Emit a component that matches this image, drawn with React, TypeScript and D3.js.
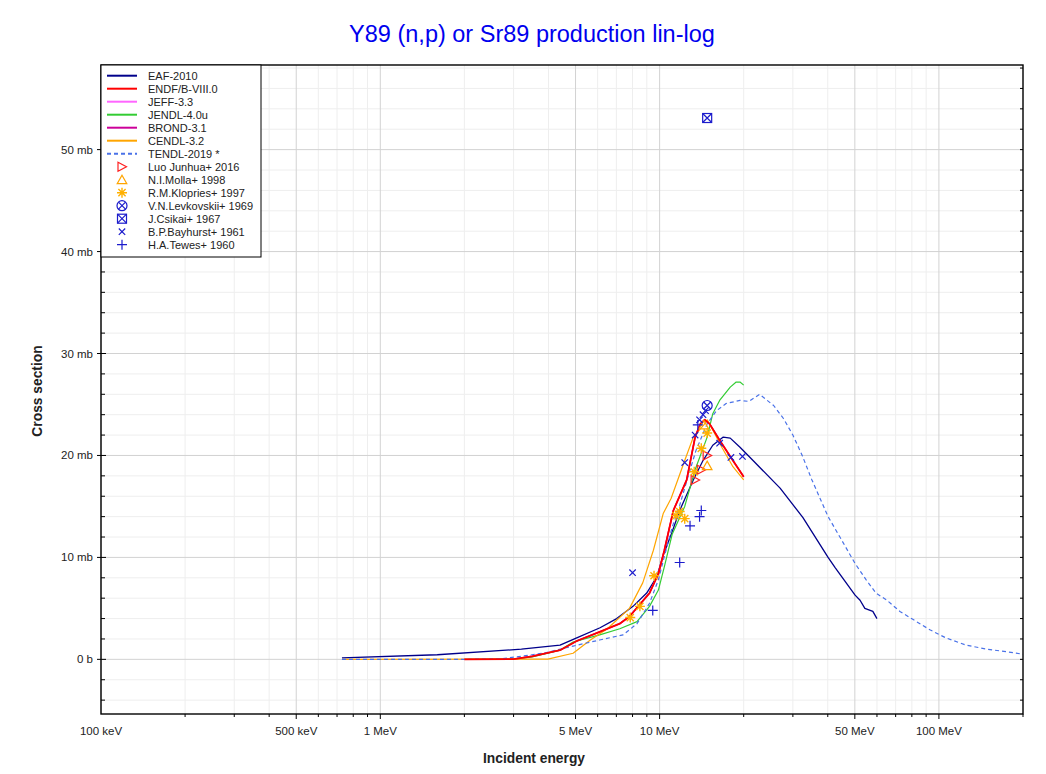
import * as d3 from 'd3';

// Evaluated curves: [incident energy in MeV, cross section in mb]
const eaf2010: [number, number][] = [
  [0.729, 0.15], [1.6, 0.45], [3.2, 1.0], [4.4, 1.4], [5.05, 2.1], [6.12, 3.1],
  [7.02, 4.0], [8.03, 5.2], [8.99, 6.5], [9.77, 8.1], [10.3, 10.2], [11.05, 12.4],
  [11.8, 14.6], [13.2, 17.6], [14.3, 19.5], [15.5, 21.0], [16.9, 21.8], [17.9, 21.7],
  [19.4, 20.8], [21.6, 19.5], [27.0, 16.8], [32.6, 13.9], [40.1, 10.0], [42.5, 9.0],
  [50.1, 6.3], [52.2, 5.8], [54.3, 5.0], [58.0, 4.7], [60.0, 4.0],
];

const endfb80: [number, number][] = [
  [2.0, 0], [3.0, 0.02], [3.5, 0.3], [4.4, 0.9], [5.05, 1.8], [6.1, 2.7], [7.2, 3.5],
  [7.8, 4.2], [9.2, 6.5], [9.9, 8.4], [10.4, 10.7], [11.2, 14.6], [12.5, 17.6],
  [13.4, 21.8], [14.0, 23.1], [14.5, 23.5], [15.1, 23.1], [16.4, 21.5], [17.9, 19.9],
  [20.0, 17.9],
];

const jeff33 = endfb80;
const brond31 = endfb80;

const jendl40u: [number, number][] = [
  [2.0, 0], [3.0, 0.02], [3.5, 0.25], [4.4, 0.9], [4.9, 1.7], [6.1, 2.4], [7.2, 3.0],
  [8.3, 3.7], [9.2, 5.2], [9.9, 6.8], [10.4, 9.1], [11.1, 12.3], [12.3, 15.0],
  [13.4, 18.6], [14.8, 21.8], [15.5, 24.1], [16.4, 25.4], [17.9, 26.7], [18.8, 27.2],
  [19.4, 27.2], [20.0, 26.9],
];

const cendl32: [number, number][] = [
  [0.729, 0], [3.98, 0.03], [4.9, 0.6], [5.65, 1.9], [6.5, 3.0], [7.8, 5.0], [8.7, 7.5],
  [9.5, 10.7], [10.3, 14.3], [11.0, 15.8], [12.3, 19.5], [13.2, 21.8], [14.4, 23.0],
  [14.8, 23.5], [15.5, 22.5], [16.7, 20.8], [18.3, 18.9], [20.0, 17.6],
];

const tendl2019: [number, number][] = [
  [0.729, 0], [2.0, 0], [2.7, 0.05], [3.4, 0.4], [3.9, 0.65], [4.9, 1.3], [6.1, 1.9],
  [7.4, 2.4], [8.3, 3.5], [9.2, 5.5], [9.9, 7.8], [10.4, 10.1], [11.1, 13.0],
  [11.8, 15.1], [12.6, 17.8], [13.5, 20.5], [14.8, 23.1], [16.0, 24.4], [17.3, 25.1],
  [19.4, 25.4], [20.9, 25.3], [22.8, 26.0], [25.6, 24.9], [27.8, 23.6], [30.0, 22.0],
  [32.4, 20.0], [35.1, 17.6], [40.1, 14.0], [44.2, 12.0], [50.1, 9.4], [54.9, 7.8],
  [59.5, 6.5], [65.1, 5.8], [72.5, 4.7], [80.9, 3.9], [92.8, 2.9], [106, 2.1],
  [125, 1.4], [148, 1.0], [175, 0.75], [200, 0.5],
];

// Measurements: [energy MeV, cross section mb]
const luoJunhua2016: [number, number][] = [[13.4, 17.6], [14.1, 18.6], [14.8, 20.0]];
const molla1998: [number, number][] = [[14.4, 23.0], [14.8, 19.0]];
const klopries1997: [number, number][] = [
  [7.85, 4.1], [8.5, 5.2], [9.55, 8.2], [11.45, 14.1], [11.8, 14.5], [12.3, 13.8],
  [13.3, 18.4], [14.1, 20.7], [14.8, 22.2],
];
const levkovskii1969: [number, number][] = [[14.8, 24.9]];
const csikai1967: [number, number][] = [[14.8, 53.1]];
const bayhurst1961: [number, number][] = [
  [8.0, 8.5], [12.3, 19.3], [13.4, 22.0], [13.9, 23.5], [14.3, 24.0], [14.6, 24.4],
  [16.4, 21.2], [18.0, 19.8], [19.8, 19.9],
];
const tewes1960: [number, number][] = [
  [9.45, 4.8], [11.8, 9.5], [12.85, 13.1], [13.9, 14.0], [14.1, 14.6], [13.7, 23.0],
];

const xTickValues = [0.1, 0.5, 1, 5, 10, 50, 100];
const xTickLabels = ['100 keV', '500 keV', '1 MeV', '5 MeV', '10 MeV', '50 MeV', '100 MeV'];
const yTickValues = [0, 10, 20, 30, 40, 50];
const yTickLabels = ['0 b', '10 mb', '20 mb', '30 mb', '40 mb', '50 mb'];

const FONT = 'Liberation Sans, Arial, Helvetica, sans-serif';
const BLUE = '#1c1ccc';

type Curve = { name: string; data: [number, number][]; color: string; width: number; dash?: string };
type Marks = { name: string; data: [number, number][]; color: string; symbol: string };

const curves: Curve[] = [
  { name: 'EAF-2010', data: eaf2010, color: '#00008b', width: 1.3 },
  { name: 'ENDF/B-VIII.0', data: endfb80, color: '#ff0000', width: 1.8 },
  { name: 'JEFF-3.3', data: jeff33, color: '#ff66ff', width: 1.4 },
  { name: 'JENDL-4.0u', data: jendl40u, color: '#33cc33', width: 1.2 },
  { name: 'BROND-3.1', data: brond31, color: '#cc0099', width: 1.4 },
  { name: 'CENDL-3.2', data: cendl32, color: '#ffa500', width: 1.2 },
  { name: 'TENDL-2019 *', data: tendl2019, color: '#4a72e8', width: 1.2, dash: '4,3' },
];

const marks: Marks[] = [
  { name: 'Luo Junhua+ 2016', data: luoJunhua2016, color: '#ff2020', symbol: 'triRight' },
  { name: 'N.I.Molla+ 1998', data: molla1998, color: '#ffa500', symbol: 'triUp' },
  { name: 'R.M.Klopries+ 1997', data: klopries1997, color: '#ffb000', symbol: 'star' },
  { name: 'V.N.Levkovskii+ 1969', data: levkovskii1969, color: BLUE, symbol: 'circleX' },
  { name: 'J.Csikai+ 1967', data: csikai1967, color: BLUE, symbol: 'squareX' },
  { name: 'B.P.Bayhurst+ 1961', data: bayhurst1961, color: BLUE, symbol: 'cross' },
  { name: 'H.A.Tewes+ 1960', data: tewes1960, color: BLUE, symbol: 'plus' },
];

function Symbol({ kind, x, y, color }: { kind: string; x: number; y: number; color: string }) {
  const common = { fill: 'none', stroke: color, strokeWidth: 1.2 };
  const t = `translate(${x},${y})`;
  switch (kind) {
    case 'triRight':
      return <path transform={t} d="M-4,-4.5L4.5,0L-4,4.5Z" {...common} />;
    case 'triUp':
      return <path transform={t} d="M0,-4.5L4.8,4L-4.8,4Z" {...common} />;
    case 'star':
      return (
        <path
          transform={t}
          d="M0,-5V5M-5,0H5M-3.6,-3.6L3.6,3.6M-3.6,3.6L3.6,-3.6"
          {...common}
          strokeWidth={1.4}
        />
      );
    case 'circleX':
      return (
        <g transform={t} {...common}>
          <circle r={5} />
          <path d="M-3.5,-3.5L3.5,3.5M-3.5,3.5L3.5,-3.5" />
        </g>
      );
    case 'squareX':
      return (
        <g transform={t} {...common}>
          <rect x={-4.5} y={-4.5} width={9} height={9} />
          <path d="M-4.5,-4.5L4.5,4.5M-4.5,4.5L4.5,-4.5" />
        </g>
      );
    case 'cross':
      return <path transform={t} d="M-3.2,-3.2L3.2,3.2M-3.2,3.2L3.2,-3.2" {...common} />;
    default:
      return <path transform={t} d="M0,-5V5M-5,0H5" {...common} />;
  }
}

export default function App() {
  const left = 101;
  const right = 1023;
  const top = 65;
  const bottom = 714;

  const x = d3.scaleLog().domain([0.1, 200]).range([left, right]);
  const y = d3.scaleLinear().domain([-5.36, 58.3]).range([bottom, top]);

  const line = d3
    .line<[number, number]>()
    .x((d) => x(d[0]))
    .y((d) => y(d[1]));

  // log grid: 2..9 in every decade
  const logTicks: number[] = [];
  [0.1, 1, 10, 100].forEach((dec) => {
    for (let m = 1; m <= 9; m++) {
      const v = dec * m;
      if (v <= 200 && v > 0.1) logTicks.push(+v.toPrecision(3));
    }
  });
  const majorX = (v: number) => xTickValues.some((t) => Math.abs(t - v) < 1e-9);
  const yMinor = d3.range(-4, 58.3, 2).filter((v) => v % 10 !== 0);

  // draw order: keep the red ENDF curve on top
  const drawOrder = [curves[0], curves[2], curves[4], curves[3], curves[5], curves[6], curves[1]];

  const legendRows = [...curves.map((c) => c.name), ...marks.map((m) => m.name)];

  return (
    <svg
      width={1046}
      height={774}
      style={{ position: 'absolute', left: 0, top: 0, background: '#fff' }}
      fontFamily={FONT}
    >
      <text x={532} y={42} textAnchor="middle" fontSize={23.5} fill="#0000ee">
        Y89 (n,p) or Sr89 production lin-log
      </text>

      {/* grid */}
      <g>
        {yMinor.map((v) => (
          <line key={'ym' + v} x1={left} x2={right} y1={y(v)} y2={y(v)} stroke="#eeeeee" />
        ))}
        {logTicks.filter((v) => !majorX(v)).map((v) => (
          <line key={'xm' + v} x1={x(v)} x2={x(v)} y1={top} y2={bottom} stroke="#eeeeee" />
        ))}
        {yTickValues.map((v) => (
          <line key={'yM' + v} x1={left} x2={right} y1={y(v)} y2={y(v)} stroke="#d2d2d2" />
        ))}
        {xTickValues.map((v) => (
          <line key={'xM' + v} x1={x(v)} x2={x(v)} y1={top} y2={bottom} stroke="#d2d2d2" />
        ))}
      </g>

      {/* curves */}
      <g fill="none" strokeLinejoin="round">
        {drawOrder.map((c) => (
          <path
            key={c.name}
            d={line(c.data) || ''}
            stroke={c.color}
            strokeWidth={c.width}
            strokeDasharray={c.dash}
          />
        ))}
      </g>

      {/* measurements */}
      <g>
        {marks.map((m) =>
          m.data.map((d, i) => (
            <Symbol key={m.name + i} kind={m.symbol} x={x(d[0])} y={y(d[1])} color={m.color} />
          ))
        )}
      </g>

      {/* frame and ticks */}
      <rect x={left} y={top} width={right - left} height={bottom - top} fill="none" stroke="#000" strokeWidth={1.4} />
      <g stroke="#000" strokeWidth={1}>
        {yTickValues.map((v) => (
          <line key={'lt' + v} x1={left - 4} x2={left + 5} y1={y(v)} y2={y(v)} />
        ))}
        {yMinor.map((v) => (
          <line key={'lm' + v} x1={left} x2={left + 4} y1={y(v)} y2={y(v)} />
        ))}
        {[...yTickValues, ...yMinor].map((v) => (
          <line key={'rt' + v} x1={right - 3} x2={right} y1={y(v)} y2={y(v)} />
        ))}
        {logTicks.map((v) => (
          <line key={'bt' + v} x1={x(v)} x2={x(v)} y1={bottom} y2={bottom + (majorX(v) ? 5 : 3)} />
        ))}
      </g>

      {/* tick labels */}
      <g fontSize={11.5} fill="#222">
        {yTickValues.map((v, i) => (
          <text key={'yl' + v} x={93} y={y(v) + 4} textAnchor="end">
            {yTickLabels[i]}
          </text>
        ))}
        {xTickValues.map((v, i) => (
          <text key={'xl' + v} x={x(v)} y={735} textAnchor="middle">
            {xTickLabels[i]}
          </text>
        ))}
      </g>

      <text x={534} y={763} textAnchor="middle" fontSize={13.8} fontWeight="bold" fill="#222">
        Incident energy
      </text>
      <text
        transform="translate(42,391) rotate(-90)"
        textAnchor="middle"
        fontSize={13.8}
        fontWeight="bold"
        fill="#222"
      >
        Cross section
      </text>

      {/* legend */}
      <g>
        <rect x={left} y={top} width={160} height={192} fill="#fff" stroke="#000" strokeWidth={1} />
        {legendRows.map((name, i) => {
          const ry = 75.7 + i * 13;
          const c = curves[i];
          const m = i >= curves.length ? marks[i - curves.length] : null;
          return (
            <g key={'lg' + name}>
              {c && (
                <line
                  x1={107}
                  x2={137}
                  y1={ry}
                  y2={ry}
                  stroke={c.color}
                  strokeWidth={2}
                  strokeDasharray={c.dash}
                />
              )}
              {m && <Symbol kind={m.symbol} x={122} y={ry} color={m.color} />}
              <text x={148} y={ry + 4} fontSize={11} fill="#222">
                {name}
              </text>
            </g>
          );
        })}
      </g>
    </svg>
  );
}
